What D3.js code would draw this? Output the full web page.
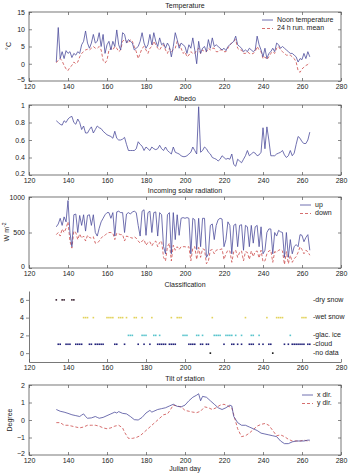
<!DOCTYPE html>
<html>
<head>
<meta charset="utf-8">
<script src="https://cdn.jsdelivr.net/npm/d3@7/dist/d3.min.js"></script>
<style>
  body { margin: 0; background: #fff; }
  svg { display: block; font-family: "Liberation Sans", Arial, sans-serif; }
</style>
</head>
<body>
<svg id="chart" width="350" height="474"></svg>
<script>
// Julian days for the daily series
const days = [134,135,136,137,138,139,140,141,142,143,144,145,146,147,148,149,150,151,152,153,154,155,156,157,158,159,160,161,162,163,164,165,166,167,168,169,170,171,172,173,174,175,176,177,178,179,180,181,182,183,184,185,186,187,188,189,190,191,192,193,194,195,196,197,198,199,200,201,202,203,204,205,206,207,208,209,210,211,212,213,214,215,216,217,218,219,220,221,222,223,224,225,226,227,228,229,230,231,232,233,234,235,236,237,238,239,240,241,242,243,244,245,246,247,248,249,250,251,252,253,254,255,256,257,258,259,260,261,262,263,264];

// Temperature (°C)
const noonTemp = [0.5,10.5,1.5,3.5,1.5,3.8,3.0,3.5,1.8,3.0,2.5,3.5,3.0,5.5,6.5,9.5,6.0,4.5,6.0,8.5,6.0,6.5,9.0,5.0,8.5,3.0,5.5,6.5,4.0,6.5,5.0,9.8,5.5,4.0,9.0,8.5,6.0,7.0,6.5,6.0,4.0,4.5,5.0,6.5,9.0,6.0,4.5,5.5,8.5,5.5,9.0,6.5,5.0,7.5,5.5,6.0,4.5,6.0,5.0,2.0,5.0,9.0,7.0,4.5,6.0,5.5,5.0,3.0,5.5,4.5,7.5,4.0,0.0,6.5,3.0,4.5,5.0,3.5,7.0,4.5,7.5,5.0,5.5,5.0,4.5,4.0,4.5,3.8,5.0,5.5,6.0,6.5,8.0,5.5,5.0,4.5,3.5,4.0,3.5,4.5,4.0,3.5,4.0,8.0,5.5,4.0,2.0,4.5,1.5,3.0,3.5,4.5,3.5,6.0,5.5,4.5,5.0,4.5,4.0,3.5,3.0,3.0,2.5,2.0,0.5,1.5,1.2,3.0,1.5,3.5,2.0];
const runMean = [0.3,1.0,1.5,0.8,-0.5,-1.5,-2.0,-1.0,-0.5,0.5,0.0,0.5,2.0,3.0,3.5,4.0,4.2,4.0,4.5,5.0,4.5,4.5,5.0,4.0,1.0,0.2,1.0,4.0,4.5,4.0,5.0,4.5,3.5,4.0,6.5,7.0,6.5,6.0,7.0,6.5,5.0,3.5,1.5,3.0,4.5,5.0,4.0,3.0,4.5,5.0,6.5,5.5,4.5,4.0,5.0,5.5,4.0,3.0,4.5,3.5,4.0,4.5,6.5,5.5,4.5,3.0,3.5,2.0,2.5,3.5,3.0,3.0,4.0,4.5,3.0,4.0,3.5,3.5,4.5,4.0,4.5,4.5,3.5,3.5,4.0,4.0,3.5,3.5,4.5,5.5,6.0,6.5,7.0,4.5,4.0,4.0,3.0,3.0,3.5,3.0,2.8,3.0,3.5,5.0,4.0,3.5,1.5,2.0,1.2,2.0,3.0,3.5,3.0,4.5,5.0,4.0,3.5,3.0,2.5,2.5,2.5,2.0,1.5,0.5,-2.0,-2.5,-1.5,-1.0,-0.5,-0.2,0.3];

// Albedo
const albedo = [0.82,0.80,0.78,0.77,0.82,0.80,0.84,0.86,0.87,0.80,0.78,0.84,0.80,0.72,0.76,0.68,0.68,0.72,0.75,0.68,0.72,0.76,0.74,0.73,0.70,0.68,0.66,0.65,0.64,0.62,0.70,0.62,0.60,0.60,0.61,0.63,0.55,0.48,0.48,0.48,0.48,0.50,0.58,0.55,0.53,0.48,0.52,0.50,0.48,0.52,0.50,0.49,0.50,0.54,0.50,0.48,0.52,0.48,0.46,0.44,0.52,0.46,0.45,0.44,0.42,0.41,0.41,0.42,0.44,0.46,0.52,0.48,0.44,0.98,0.46,0.48,0.52,0.50,0.46,0.44,0.40,0.39,0.38,0.36,0.38,0.42,0.40,0.38,0.39,0.38,0.44,0.32,0.30,0.38,0.36,0.34,0.38,0.42,0.48,0.42,0.44,0.46,0.45,0.42,0.43,0.46,0.74,0.50,0.75,0.60,0.42,0.42,0.42,0.44,0.45,0.46,0.48,0.43,0.40,0.42,0.48,0.42,0.45,0.55,0.64,0.62,0.58,0.56,0.56,0.60,0.69];

// Incoming solar radiation (W m-2)
const radUp = [580,620,700,600,720,650,950,500,300,750,760,500,740,600,750,520,740,750,600,750,500,450,560,650,700,750,780,780,700,780,450,790,800,780,780,500,760,780,760,790,800,780,600,450,800,820,460,780,800,500,780,790,450,780,750,300,200,750,780,200,780,400,750,460,700,710,700,710,700,200,700,680,260,700,300,700,700,150,200,600,620,400,600,680,700,690,300,400,650,600,200,600,620,300,600,610,250,600,580,300,600,350,580,600,300,580,200,250,500,550,550,200,500,450,530,510,500,150,500,150,400,200,300,330,300,470,460,370,430,470,250];
const radDown = [470,500,450,550,500,560,650,380,280,520,500,400,480,420,450,380,460,430,420,440,350,350,380,420,450,460,490,500,500,490,400,490,480,470,470,380,450,440,430,420,440,420,380,350,380,400,320,360,370,310,360,380,300,360,380,150,100,300,350,100,320,250,300,260,300,300,300,290,300,100,280,300,120,290,150,270,260,60,100,250,260,200,250,260,260,270,120,200,250,240,80,230,250,150,220,240,100,230,220,120,240,160,230,240,140,250,90,100,200,240,250,80,230,220,250,260,240,50,230,60,180,80,130,160,220,300,260,200,250,230,180];

// Classification: days in each class
const classNames = ["-dry snow", "-wet snow", "-glac. ice", "-cloud", "-no data"];
const classLevels = [6, 4, 2, 1, 0];
const classColors = ["#3a2030", "#e2d25a", "#58c4cc", "#23237a", "#111111"];
const dryDays = [134,137,138,142,143];
const wetDays = [148,149,150,153,160,161,162,163,166,167,168,170,174,175,178,183,193,196,197,198,214,231,242,247,248,249,250,260,261,262];
const iceDays = [171,172,173,178,179,180,184,185,187,199,200,201,206,207,209,215,216,217,218,221,222,223,224,226,229,234,235,238,254];
const cloudDays = [135,136,139,140,141,144,145,146,147,151,152,154,155,156,157,158,164,165,169,176,179,182,186,187,188,189,190,192,193,194,195,202,203,204,205,208,209,211,212,220,224,225,227,229,233,234,235,238,240,243,244,251,253,255,256,257,258,259,260,261,263,264];
const noDataDays = [213,245];

// Tilt of station (degree)
const tiltDays = [134,136,138,140,142,144,146,147,148,149,150,152,154,155,156,158,160,162,164,165,166,168,170,172,174,176,178,180,182,183,184,186,188,190,192,194,196,198,200,202,204,206,207,208,209,211,213,215,217,219,221,223,224,225,227,229,231,233,235,237,239,241,243,245,247,249,251,253,255,257,259,261,263,264];
const tiltX = [0.6,0.5,0.45,0.38,0.3,0.25,0.2,0.28,0.35,0.2,0.1,0.12,0.2,0.15,0.1,0.15,0.25,0.35,0.45,0.4,0.48,0.38,0.35,0.2,0.02,0.0,0.15,0.4,0.55,0.45,0.5,0.6,0.65,0.7,0.8,0.9,0.78,0.75,0.85,1.1,1.3,1.42,1.5,1.1,1.35,1.3,1.1,0.9,0.7,0.6,0.7,0.85,0.8,0.2,-0.15,-0.3,-0.3,-0.4,-0.5,-0.6,-0.75,-0.8,-0.85,-0.9,-0.95,-1.2,-1.35,-1.35,-1.25,-1.2,-1.2,-1.2,-1.15,-1.15];
const tiltYDays = [134,136,138,140,142,144,146,148,150,152,154,156,158,160,162,164,166,168,169,171,173,175,177,179,181,183,185,187,189,191,192,194,196,198,200,202,204,206,208,210,212,214,216,218,220,222,224,225,227,229,231,233,235,237,239,241,243,245,247,249,251,253,255,257,259,261,263,264];
const tiltY = [-0.15,-0.15,-0.3,-0.3,-0.35,-0.4,-0.45,-0.4,-0.3,-0.3,-0.3,-0.35,-0.45,-0.5,-0.45,-0.35,-0.3,-0.45,-0.7,-1.05,-1.05,-1.0,-0.9,-0.7,-0.5,-0.3,-0.1,0.1,0.3,0.35,0.5,0.85,0.8,0.75,0.55,0.5,0.45,0.42,0.5,0.75,0.7,0.6,0.7,0.85,0.9,0.8,0.7,0.3,-0.5,-0.95,-0.9,-0.75,-0.55,-0.35,-0.25,-0.2,-0.3,-0.6,-0.9,-0.85,-0.95,-1.1,-1.2,-1.2,-1.2,-1.15,-1.2,-1.2];

const xTicks = [120,140,160,180,200,220,240,260,280];

const solidColor = "#4d4d9c";
const dashColor = "#cc4a4a";
const axisColor = "#555";
const fontSize = "7px";

const svg = d3.select("#chart");
const left = 29, right = 341;

const x = d3.scaleLinear().domain([120, 280]).range([left, right]);

// Draw one boxed panel
function panel(top, bottom, yDomain, yTicks, title, opts = {}) {
    const y = d3.scaleLinear().domain(yDomain).range([bottom, top]);
    const g = svg.append("g");
    const box = opts.box !== false;
    let yAxisG;

    if (box) {
        g.append("rect")
            .attr("x", left).attr("y", top)
            .attr("width", right - left).attr("height", bottom - top)
            .attr("fill", "none").attr("stroke", axisColor).attr("stroke-width", 0.8);
        // inward ticks on all sides
        g.append("g").attr("transform", `translate(0,${bottom})`)
            .call(d3.axisBottom(x).tickValues(xTicks).tickSizeInner(-3).tickSizeOuter(0).tickPadding(3))
            .call(s => s.select(".domain").remove());
        g.append("g").attr("transform", `translate(0,${top})`)
            .call(d3.axisTop(x).tickValues(xTicks).tickSizeInner(-3).tickSizeOuter(0).tickFormat(""))
            .call(s => s.select(".domain").remove());
        yAxisG = g.append("g").attr("transform", `translate(${left},0)`)
            .call(d3.axisLeft(y).tickValues(yTicks).tickSizeInner(-3).tickSizeOuter(0).tickPadding(4).tickFormat(opts.fmt || d3.format("")))
            .call(s => s.select(".domain").remove());
        g.append("g").attr("transform", `translate(${right},0)`)
            .call(d3.axisRight(y).tickValues(yTicks).tickSizeInner(-3).tickSizeOuter(0).tickFormat(""))
            .call(s => s.select(".domain").remove());
    } else {
        g.append("g").attr("transform", `translate(0,${bottom})`)
            .call(d3.axisBottom(x).tickValues(xTicks).tickSizeInner(-3).tickSizeOuter(0).tickPadding(3));
        yAxisG = g.append("g").attr("transform", `translate(${left},0)`)
            .call(d3.axisLeft(y).tickValues(yTicks).tickSizeInner(3).tickSizeOuter(0).tickPadding(2));
    }

    g.selectAll(".tick line").attr("stroke", axisColor).attr("stroke-width", 0.7);
    g.selectAll(".domain").attr("stroke", axisColor).attr("stroke-width", 0.8);
    g.selectAll(".tick text").attr("fill", "#222").style("font-size", fontSize);
    // lift the lowest y label a little so it clears the x labels
    if (box) yAxisG.select(".tick text").attr("dy", "0.1em");

    svg.append("text")
        .attr("x", (left + right) / 2).attr("y", top - 4)
        .attr("text-anchor", "middle")
        .style("font-size", fontSize).attr("fill", "#222")
        .text(title);

    return y;
}

function drawLine(xs, ys, y, color, dashed) {
    const line = d3.line().x((d, i) => x(xs[i])).y(d => y(d));
    svg.append("path")
        .datum(ys)
        .attr("fill", "none")
        .attr("stroke", color)
        .attr("stroke-width", 0.8)
        .attr("stroke-dasharray", dashed ? "3,2" : null)
        .attr("d", line);
}

function legend(lx, ly, labels) {
    labels.forEach((lab, i) => {
        const yy = ly + i * 8.5;
        svg.append("line")
            .attr("x1", lx).attr("x2", lx + 11).attr("y1", yy).attr("y2", yy)
            .attr("stroke", i === 0 ? solidColor : dashColor)
            .attr("stroke-width", 0.8)
            .attr("stroke-dasharray", i === 0 ? null : "3,2");
        svg.append("text")
            .attr("x", lx + 15).attr("y", yy)
            .attr("dominant-baseline", "middle")
            .style("font-size", fontSize).attr("fill", "#222")
            .text(lab);
    });
}

function yLabel(xPos, yPos, label) {
    svg.append("text")
        .attr("transform", `translate(${xPos},${yPos}) rotate(-90)`)
        .attr("text-anchor", "middle")
        .style("font-size", fontSize).attr("fill", "#222")
        .text(label);
}

// Temperature
const y1 = panel(12, 81, [-5, 15], [-5, 0, 5, 10, 15], "Temperature");
drawLine(days, runMean, y1, dashColor, true);
drawLine(days, noonTemp, y1, solidColor, false);
legend(262, 20, ["Noon temperature", "24 h run. mean"]);
yLabel(11, 46, "°C");

// Albedo
const y2 = panel(105, 175, [0.2, 1], [0.2, 0.4, 0.6, 0.8, 1], "Albedo", { fmt: d3.format("~g") });
drawLine(days, albedo, y2, solidColor, false);

// Incoming solar radiation
const y3 = panel(197, 268, [0, 1000], [0, 500, 1000], "Incoming solar radiation");
drawLine(days, radDown, y3, dashColor, true);
drawLine(days, radUp, y3, solidColor, false);
legend(300, 205, ["up", "down"]);
svg.append("text")
    .attr("transform", `translate(9,232) rotate(-90)`)
    .attr("text-anchor", "middle")
    .style("font-size", fontSize).attr("fill", "#222")
    .html('W m<tspan dy="-3" font-size="5px">-2</tspan>');

// Classification
const y4 = panel(291, 362, [-1, 7], [0, 2, 4, 6], "Classification", { box: false });
const classDays = [dryDays, wetDays, iceDays, cloudDays, noDataDays];
classDays.forEach((ds, k) => {
    svg.append("g").selectAll("rect")
        .data(ds)
        .join("rect")
        .attr("x", d => x(d) - 0.8)
        .attr("y", y4(classLevels[k]) - 0.8)
        .attr("width", 1.6).attr("height", 1.6)
        .attr("fill", classColors[k]);
    svg.append("text")
        .attr("x", 313).attr("y", y4(classLevels[k]))
        .attr("dominant-baseline", "middle")
        .style("font-size", fontSize).attr("fill", "#222")
        .text(classNames[k]);
});

// Tilt of station
const y5 = panel(385, 455, [-2, 2], [-2, -1, 0, 1, 2], "Tilt of station");
drawLine(tiltYDays, tiltY, y5, dashColor, true);
drawLine(tiltDays, tiltX, y5, solidColor, false);
legend(302, 395, ["x dir.", "y dir."]);
yLabel(12, 420, "Degree");

svg.append("text")
    .attr("x", (left + right) / 2).attr("y", 471)
    .attr("text-anchor", "middle")
    .style("font-size", fontSize).attr("fill", "#222")
    .text("Julian day");
</script>
</body>
</html>
